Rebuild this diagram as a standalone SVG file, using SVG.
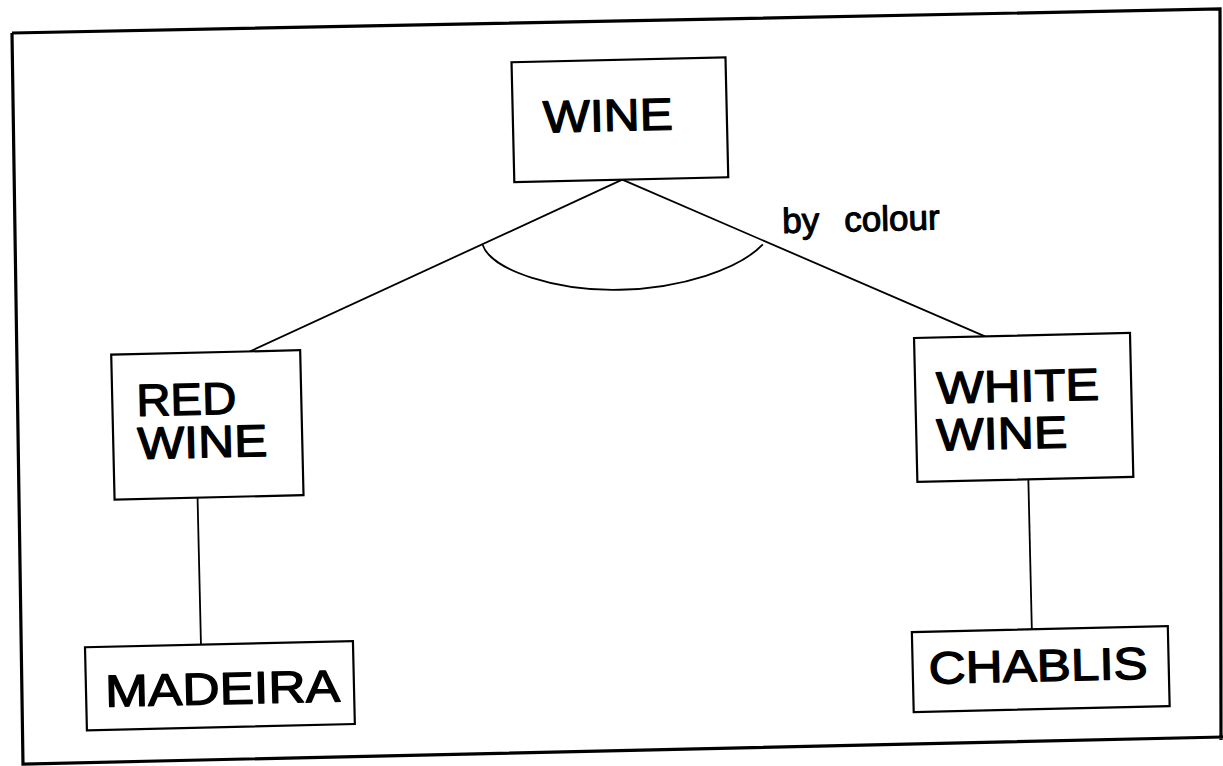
<svg xmlns="http://www.w3.org/2000/svg" width="1223" height="766" viewBox="0 0 1223 766">
  <style>
    .box { fill: #ffffff; stroke: #000000; stroke-width: 2.2; }
    .edge { fill: none; stroke: #000000; stroke-width: 1.8; }
    .label { font-family: "Liberation Sans", Arial, Helvetica, sans-serif; font-size: 45px; fill: #000000; stroke: #000000; stroke-width: 1.3; stroke-linejoin: round; }
    .note { font-family: "Liberation Sans", Arial, Helvetica, sans-serif; font-size: 35px; fill: #000000; stroke: #000000; stroke-width: 1.1; stroke-linejoin: round; }
  </style>
  <rect x="0" y="0" width="1223" height="766" fill="#ffffff"/>
  <!-- outer border -->
  <path d="M12,33 L1220,9 L1221,740 M1223,737 L23,764 L12,33" fill="none" stroke="#000000" stroke-width="3.2"/>
  <g transform="rotate(-1.33 611 383)">
    <!-- connectors -->
    <g id="connectors">
      <line class="edge" x1="627" y1="180" x2="251" y2="343"/>
      <line class="edge" x1="627" y1="180" x2="986" y2="345"/>
      <line class="edge" x1="195" y1="488" x2="195" y2="635"/>
      <line class="edge" x1="1026" y1="489" x2="1026" y2="639"/>
      <!-- arc grouping the two colour branches -->
      <path class="edge" d="M486,242 C494,268 560,290 622,290 C684,290 742,272 766,248"/>
      <text class="note" x="786" y="237">by</text>
      <text class="note" x="848" y="237">colour</text>
    </g>
    <g id="wine">
      <rect class="box" x="519" y="60" width="214" height="120"/>
      <text class="label" x="549" y="131" textLength="130" lengthAdjust="spacingAndGlyphs">WINE</text>
    </g>
    <g id="red-wine">
      <rect class="box" x="112" y="343" width="189" height="145"/>
      <text class="label" x="136" y="405" textLength="100" lengthAdjust="spacingAndGlyphs">RED</text>
      <text class="label" x="136" y="448" textLength="130" lengthAdjust="spacingAndGlyphs">WINE</text>
    </g>
    <g id="white-wine">
      <rect class="box" x="915" y="345" width="216" height="144"/>
      <text class="label" x="936" y="411" textLength="163" lengthAdjust="spacingAndGlyphs">WHITE</text>
      <text class="label" x="935" y="458" textLength="131" lengthAdjust="spacingAndGlyphs">WINE</text>
    </g>
    <g id="madeira">
      <rect class="box" x="79" y="635" width="268" height="83"/>
      <text class="label" x="98" y="695" font-size="50" textLength="235" lengthAdjust="spacingAndGlyphs">MADEIRA</text>
    </g>
    <g id="chablis">
      <rect class="box" x="906" y="639" width="256" height="80"/>
      <text class="label" x="922" y="691" textLength="219" lengthAdjust="spacingAndGlyphs">CHABLIS</text>
    </g>
  </g>
</svg>
